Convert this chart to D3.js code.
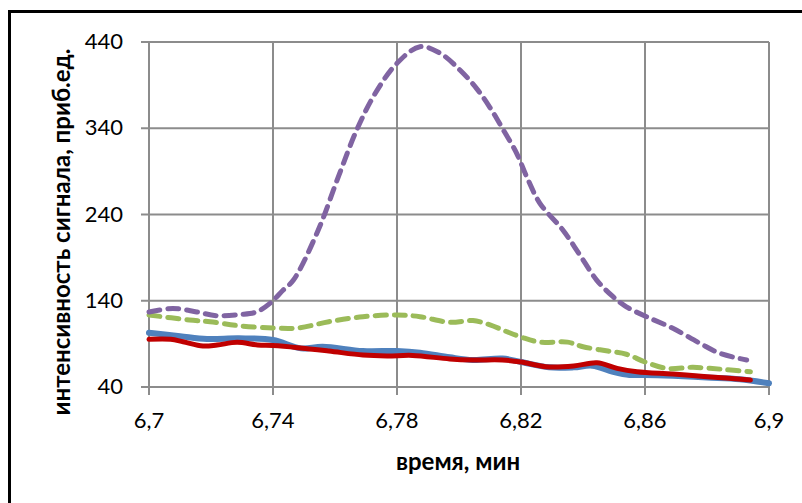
<!DOCTYPE html>
<html>
<head>
<meta charset="utf-8">
<script src="https://cdn.jsdelivr.net/npm/d3@7"></script>
<style>
  body { margin: 0; background: #fff; }
  svg { display: block; font-family: Lato, "Open Sans", sans-serif; }
</style>
</head>
<body>
<svg id="chart"></svg>
<script>
// tick labels
let xTicks = [6.7, 6.74, 6.78, 6.82, 6.86, 6.9]
let yTicks = [40, 140, 240, 340, 440]

// series: x (время, мин) and y (интенсивность)
let blueX = [6.7, 6.71, 6.7187, 6.729, 6.74, 6.749, 6.756, 6.769, 6.78, 6.7874, 6.797, 6.8045, 6.814, 6.82, 6.829, 6.837, 6.843, 6.8497, 6.855, 6.86, 6.869, 6.88, 6.8906, 6.9]
let blueY = [103, 99, 95.7, 96.4, 94.5, 84.8, 86.7, 81.7, 81.7, 79.8, 74.4, 71.3, 73, 69, 62.8, 62.8, 64.7, 57.7, 54, 54, 53, 51, 49, 44.3]

let redX = [6.7, 6.707, 6.711, 6.7174, 6.722, 6.7284, 6.735, 6.74, 6.748, 6.758, 6.769, 6.7768, 6.785, 6.797, 6.8045, 6.814, 6.82, 6.828, 6.837, 6.8445, 6.851, 6.8574, 6.869, 6.88, 6.894]
let redY = [95.3, 95.3, 92.5, 87.5, 88.7, 91.8, 88.7, 88, 85.6, 81.7, 77, 76, 76.6, 72.5, 71.3, 71.3, 69, 63.5, 64.3, 68, 61.6, 57.7, 55, 52, 48]

let greenX = [6.7, 6.713, 6.7197, 6.729, 6.74, 6.748, 6.758, 6.769, 6.78, 6.7874, 6.797, 6.8045, 6.81, 6.8155, 6.82, 6.826, 6.835, 6.84, 6.848, 6.854, 6.86, 6.867, 6.8755, 6.885, 6.894]
let greenY = [123.5, 117.7, 115.7, 111, 108.4, 108.4, 115.7, 121.5, 123.5, 121.5, 115, 117, 112, 104, 98, 92, 92, 86.7, 81.7, 78, 69, 61.6, 62.8, 60.5, 57.7]

let purpleX = [6.7, 6.7077, 6.7154, 6.7218, 6.7294, 6.7347, 6.739, 6.7433, 6.7466, 6.7546, 6.7611, 6.767, 6.7729, 6.7799, 6.7874, 6.7939, 6.8003, 6.8057, 6.81, 6.8143, 6.8186, 6.8218, 6.8261, 6.8335, 6.839, 6.8444, 6.8497, 6.854, 6.8605, 6.869, 6.8777, 6.8842, 6.8928]
let purpleY = [127, 131, 127, 122.7, 124, 127, 137, 152.5, 164, 222, 284, 338, 380, 415, 434.5, 427, 407.5, 386, 364, 338, 311, 284, 253, 222, 193, 164, 144.7, 133, 121.5, 108, 90.7, 79, 71.3]

let width = 802
let height = 503
let plotLeft = 149, plotRight = 769, plotTop = 42, plotBottom = 387

let svg = d3.select('#chart').attr('width', width).attr('height', height)

// outer frame
svg.append('rect')
    .attr('x', 9.5).attr('y', 11.5)
    .attr('width', 800).attr('height', 500)
    .attr('fill', 'none')
    .attr('stroke', '#000')
    .attr('stroke-width', 3)

let xScale = d3.scaleLinear().domain([6.7, 6.9]).range([plotLeft, plotRight])
let yScale = d3.scaleLinear().domain([40, 440]).range([plotBottom, plotTop])

let grid = svg.append('g')
grid.selectAll('.vg')
    .data(xTicks)
    .enter()
    .append('line')
    .attr('x1', d => xScale(d)).attr('x2', d => xScale(d))
    .attr('y1', plotTop).attr('y2', plotBottom + 8)
    .attr('stroke', '#8c8c8c').attr('stroke-width', 2)
grid.selectAll('.hg')
    .data(yTicks)
    .enter()
    .append('line')
    .attr('x1', plotLeft - 8).attr('x2', plotRight)
    .attr('y1', d => yScale(d)).attr('y2', d => yScale(d))
    .attr('stroke', '#8c8c8c').attr('stroke-width', 2)

let fmt = d => String(d).replace('.', ',')

svg.append('g').selectAll('text')
    .data(yTicks)
    .enter()
    .append('text')
    .attr('x', 123)
    .attr('y', d => yScale(d) + 7)
    .attr('text-anchor', 'end')
    .attr('font-size', 22)
    .text(d => d)

svg.append('g').selectAll('text')
    .data(xTicks)
    .enter()
    .append('text')
    .attr('x', d => xScale(d))
    .attr('y', 428)
    .attr('text-anchor', 'middle')
    .attr('font-size', 22)
    .text(fmt)

let line = (xs) => d3.line()
    .x((d, i) => xScale(xs[i]))
    .y(d => yScale(d))
    .curve(d3.curveCatmullRom.alpha(0.5))

let series = [
    { xs: blueX, ys: blueY, color: '#4f81bd', w: 6, dash: null },
    { xs: redX, ys: redY, color: '#c00000', w: 5, dash: null },
    { xs: greenX, ys: greenY, color: '#9bbb59', w: 5, dash: '11,8' },
    { xs: purpleX, ys: purpleY, color: '#8064a2', w: 5, dash: '11,8' }
]

series.forEach(s => {
    svg.append('path')
        .datum(s.ys)
        .attr('d', line(s.xs))
        .attr('fill', 'none')
        .attr('stroke', s.color)
        .attr('stroke-width', s.w)
        .attr('stroke-linecap', 'round')
        .attr('stroke-dasharray', s.dash)
})

svg.append('text')
    .attr('x', 458).attr('y', 470)
    .attr('text-anchor', 'middle')
    .attr('font-size', 24)
    .attr('font-weight', 'bold')
    .text('время, мин')

svg.append('text')
    .attr('transform', 'translate(70,' + 232 + ') rotate(-90)')
    .attr('text-anchor', 'middle')
    .attr('font-size', 24)
    .attr('font-weight', 'bold')
    .text('интенсивность сигнала, приб.ед.')
</script>
</body>
</html>
